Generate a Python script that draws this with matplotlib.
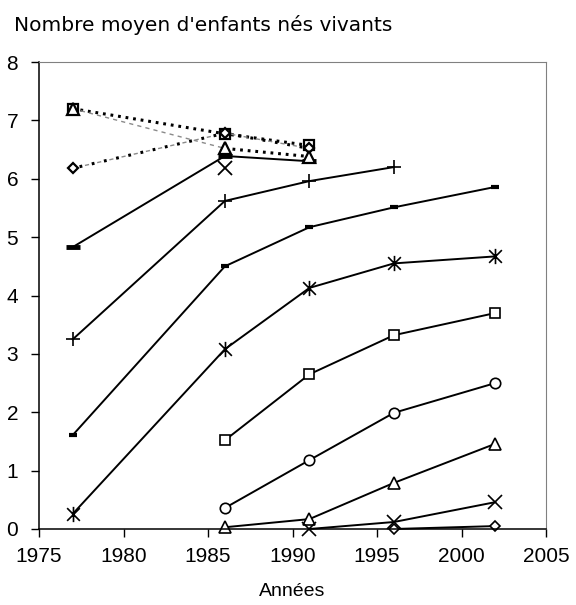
import numpy as np
import matplotlib
matplotlib.use("Agg")
import matplotlib.pyplot as plt
from matplotlib.path import Path

plt.rcParams['font.family'] = ['Liberation Sans', 'DejaVu Sans']
plt.rcParams['lines.scale_dashes'] = False

nan = np.nan
years = [1977, 1986, 1991, 1996, 2002]

# cohorts observed at successive surveys (solid lines)
s_bar_bold = [4.83, 6.39, 6.30, nan, nan]
s_plus = [3.25, 5.62, 5.96, 6.20, nan]
s_bar = [1.61, 4.50, 5.17, 5.51, 5.86]
s_star = [0.26, 3.08, 4.13, 4.55, 4.67]
s_square = [nan, 1.52, 2.65, 3.32, 3.70]
s_circle = [nan, 0.36, 1.18, 1.99, 2.50]
s_triangle = [nan, 0.03, 0.17, 0.79, 1.46]
s_x = [nan, nan, 0.00, 0.12, 0.46]
s_diamond = [nan, nan, nan, 0.00, 0.05]

# older cohorts (dotted lines)
old_years = [1977, 1986, 1991]
old_square = [7.20, 6.77, 6.57]
old_triangle = [7.20, 6.52, 6.38]
old_diamond = [6.18, 6.78, 6.52]
old_x_year = [1986]
old_x = [6.18]

xticks = [1975, 1980, 1985, 1990, 1995, 2000, 2005]
yticks = [0, 1, 2, 3, 4, 5, 6, 7, 8]

# asterisk marker (X with a vertical stroke)
star_path = Path([(-1, -1), (1, 1), (-1, 1), (1, -1), (0, -1.2), (0, 1.2)],
                 [Path.MOVETO, Path.LINETO, Path.MOVETO, Path.LINETO, Path.MOVETO, Path.LINETO])

fig = plt.figure(figsize=(5.76, 6.05), dpi=100)
ax = fig.add_axes([39/576, 1-529/605, (546-39)/576, (529-62)/605])

lw = 1.4
ms = 7


def solid(y, marker, size, mew=1.2, fill='white'):
    ax.plot(years, y, color='black', lw=lw, marker=marker, ms=size,
            mfc=fill, mec='black', mew=mew, clip_on=False)


# dotted older cohorts
ax.plot(old_years, old_square, dashes=(2, 3.5), color='black', lw=2.2, zorder=2)
ax.plot(old_years[:2], old_triangle[:2], dashes=(3, 3), color='#8a8a8a', lw=1.0, zorder=2)
ax.plot(old_years[1:], old_triangle[1:], dashes=(2, 3.5), color='black', lw=2.2, zorder=2)
ax.plot(old_years, old_diamond, linestyle=(0, (3, 6)), color='#8a8a8a', lw=1.0, zorder=2)
ax.plot(old_years, old_diamond, linestyle=(4, (2, 7)), color='black', lw=2.2, zorder=2)
ax.plot(old_years, old_square, 's', ls='none', ms=ms, mfc='white', mec='black', mew=1.6, zorder=3)
ax.plot(old_years, old_diamond, 'D', ls='none', ms=5.5, mfc='white', mec='black', mew=1.6, zorder=3)
ax.plot(old_years, old_triangle, '^', ls='none', ms=ms+1, mfc='white', mec='black', mew=1.6, zorder=3)
ax.plot(old_x_year, old_x, 'x', ls='none', ms=10, mec='black', mew=1.3, zorder=3)

# solid cohorts
solid(s_bar_bold, '_', 10, mew=3.5)
solid(s_plus, '+', 10)
solid(s_bar, '_', 6, mew=3)
solid(s_star, star_path, 11)
solid(s_square, 's', ms)
solid(s_circle, 'o', ms+0.5)
solid(s_triangle, '^', ms+1.5)
solid(s_x, 'x', 10)
solid(s_diamond, 'D', 5.5)

ax.set_xlim(1975, 2005)
ax.set_ylim(0, 8)
ax.set_xticks(xticks)
ax.set_yticks(yticks)
ax.tick_params(direction='out', length=6, width=1, labelsize=15, colors='black')
ax.tick_params(axis='y', pad=9)
ax.tick_params(axis='x', pad=7)
for s in ['top', 'right']:
    ax.spines[s].set_color('#808080')
for s in ['left', 'bottom']:
    ax.spines[s].set_color('black')
    ax.spines[s].set_linewidth(1.1)

fig.text(14/576, 1-25/605, "Nombre moyen d'enfants nés vivants", fontsize=14.5,
         family=['DejaVu Sans'], ha='left', va='center')
fig.text(292/576, 1-592/605, "Années", fontsize=14, ha='center', va='center')

fig.savefig('out.png', dpi=100)
